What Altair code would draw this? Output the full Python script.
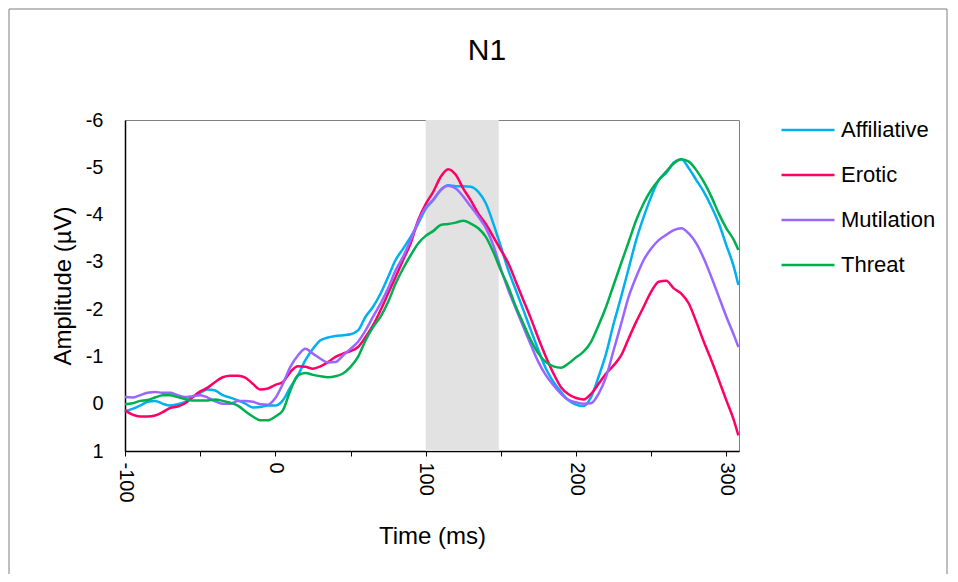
import altair as alt
import pandas as pd

# Time points (ms)
time_ms = list(range(-100, 306, 5)) + [308]

affiliative = [0.16, 0.11, 0.04, -0.04, -0.06, 0, 0.04, 0.01, -0.04, -0.14, -0.23, -0.3, -0.28, -0.18, -0.13, -0.07, 0, 0.08, 0.07, 0.04, 0.04,
               -0.07, -0.35, -0.6, -0.92, -1.16, -1.34, -1.4, -1.43, -1.45, -1.47, -1.55, -1.84, -2.05, -2.33, -2.68, -3.04, -3.28, -3.53, -3.81, -4.12,
               -4.31, -4.52, -4.62, -4.6, -4.6, -4.59, -4.48, -4.24, -3.81, -3.32, -2.82, -2.4, -1.98, -1.55, -1.13, -0.74, -0.46, -0.25, -0.07, 0.02,
               0.05, -0.14, -0.57, -1.06, -1.69, -2.26, -2.86, -3.46, -3.95, -4.38, -4.73, -4.88, -5.1, -5.17, -4.98, -4.73, -4.48, -4.17, -3.81, -3.35, -2.89,
               -2.51]
erotic = [0.14, 0.23, 0.27, 0.27, 0.25, 0.18, 0.09, 0.06, -0.01, -0.14, -0.26, -0.34, -0.46, -0.56, -0.59, -0.59, -0.55, -0.42, -0.3, -0.32, -0.4,
          -0.46, -0.67, -0.79, -0.78, -0.74, -0.79, -0.88, -0.99, -1.06, -1.11, -1.2, -1.41, -1.66, -1.98, -2.33, -2.68, -3.04, -3.39, -3.88, -4.22,
          -4.48, -4.8, -4.96, -4.84, -4.55, -4.3, -4.02, -3.8, -3.53, -3.25, -2.97, -2.58, -2.19, -1.8, -1.38, -0.99, -0.64, -0.35, -0.2, -0.12,
          -0.09, -0.21, -0.42, -0.64, -0.81, -1.02, -1.38, -1.73, -2.05, -2.37, -2.58, -2.6, -2.44, -2.33, -2.12, -1.73, -1.31, -0.92, -0.5, -0.07, 0.35,
          0.67]
mutilation = [-0.14, -0.13, -0.18, -0.23, -0.25, -0.23, -0.23, -0.18, -0.14, -0.16, -0.18, -0.13, -0.05, 0, 0, -0.06, -0.06, -0.04, 0.01, 0.02, -0.12,
              -0.42, -0.78, -1.02, -1.16, -1.06, -0.95, -0.87, -0.88, -1.02, -1.16, -1.31, -1.55, -1.84, -2.12, -2.44, -2.82, -3.11, -3.46, -3.85, -4.15,
              -4.31, -4.52, -4.61, -4.55, -4.38, -4.17, -3.96, -3.72, -3.35, -2.85, -2.4, -2.01, -1.62, -1.24, -0.88, -0.6, -0.39, -0.21, -0.08, -0.03,
              0, -0.01, -0.21, -0.57, -1.13, -1.69, -2.26, -2.68, -3.04, -3.28, -3.46, -3.57, -3.67, -3.71, -3.6, -3.39, -3.07, -2.68, -2.26, -1.84, -1.45,
              -1.2]
threat = [0.01, -0.01, -0.06, -0.08, -0.13, -0.18, -0.18, -0.14, -0.1, -0.07, -0.07, -0.07, -0.09, -0.06, -0.02, 0.04, 0.16, 0.27, 0.35, 0.35, 0.27,
          0.14, -0.28, -0.6, -0.65, -0.61, -0.58, -0.56, -0.58, -0.64, -0.78, -0.99, -1.34, -1.62, -1.84, -2.15, -2.54, -2.86, -3.14, -3.39, -3.55,
          -3.65, -3.78, -3.8, -3.83, -3.87, -3.81, -3.71, -3.53, -3.21, -2.82, -2.47, -2.05, -1.69, -1.34, -1.06, -0.88, -0.79, -0.76, -0.85, -0.98,
          -1.1, -1.31, -1.66, -2.05, -2.51, -2.97, -3.42, -3.88, -4.24, -4.52, -4.73, -4.91, -5.08, -5.17, -5.12, -4.94, -4.69, -4.38, -4.02, -3.71, -3.46,
          -3.25]

conditions = ["Affiliative", "Erotic", "Mutilation", "Threat"]
colors = ["#00B0F0", "#FF0066", "#9966FF", "#00B050"]
series = [affiliative, erotic, mutilation, threat]

chart_title = "N1"
x_ticks = list(range(-100, 301, 50))
y_ticks = list(range(-6, 2))
window_start, window_end = 100, 148.6

rows = []
for name, vals in zip(conditions, series):
    for t, v in zip(time_ms, vals):
        rows.append({"time": t, "amp": v, "cond": name})
df = pd.DataFrame(rows)

W, H = 614, 331

xscale = alt.Scale(domain=[-100, 308.4], nice=False, zero=False)
yscale = alt.Scale(domain=[-6, 1], reverse=True, nice=False, zero=False)

band = alt.Chart(pd.DataFrame({"s": [window_start], "e": [window_end]})).mark_rect(
    color="#E2E2E2"
).encode(
    x=alt.X("s:Q", scale=xscale),
    x2="e:Q",
    y=alt.value(0),
    y2=alt.value(H),
)

frame = alt.Chart(pd.DataFrame({"a": [0]})).mark_rect(
    fill=None, stroke="#7F7F7F", strokeWidth=1
).encode(
    x=alt.value(-116), x2=alt.value(822), y=alt.value(-111), y2=alt.value(480)
)

title_mark = alt.Chart(pd.DataFrame({"t": [chart_title]})).mark_text(
    fontSize=30, font="Liberation Sans", color="#000000", align="center", baseline="alphabetic"
).encode(
    text="t:N", x=alt.value(362), y=alt.value(-60)
)

lines = alt.Chart(df).mark_line(strokeWidth=2.5, interpolate="monotone").encode(
    x=alt.X("time:Q", scale=xscale,
            axis=alt.Axis(values=x_ticks, title="Time (ms)", labelAngle=90,
                          labelExpr="datum.value % 100 == 0 ? '' + datum.value : ''",
                          labelFontSize=20, titleFontSize=24, titleFontWeight="normal",
                          tickSize=5, tickColor="#000000", domainColor="#000000",
                          domainWidth=1.5, labelPadding=6, titlePadding=22, grid=False,
                          labelColor="#000000", titleColor="#000000",
                          labelFont="Liberation Sans", titleFont="Liberation Sans")),
    y=alt.Y("amp:Q", scale=yscale,
            axis=alt.Axis(values=y_ticks, title="Amplitude (µV)",
                          labelExpr="'' + datum.value",
                          labelFontSize=20, titleFontSize=24, titleFontWeight="normal",
                          ticks=False, domainColor="#000000", domainWidth=1.5,
                          labelPadding=22, titlePadding=10, grid=False,
                          labelColor="#000000", titleColor="#000000",
                          labelFont="Liberation Sans", titleFont="Liberation Sans")),
    color=alt.Color("cond:N", scale=alt.Scale(domain=conditions, range=colors),
                    legend=alt.Legend(title=None, orient="none", legendX=655, legendY=-18,
                                      symbolType="stroke", symbolSize=2809,
                                      symbolStrokeWidth=2.5, labelFontSize=22,
                                      labelFont="Liberation Sans", labelColor="#000000",
                                      labelOffset=5, rowPadding=6)),
)

chart = alt.layer(frame, band, title_mark, lines).properties(
    width=W, height=H,
    autosize=alt.AutoSizeParams(type="none"),
    padding={"left": 117, "top": 112, "right": 211, "bottom": 123},
).configure_view(stroke="#808080", strokeWidth=1)

chart.save("out.html", embed_options={"renderer": "svg", "actions": False})
